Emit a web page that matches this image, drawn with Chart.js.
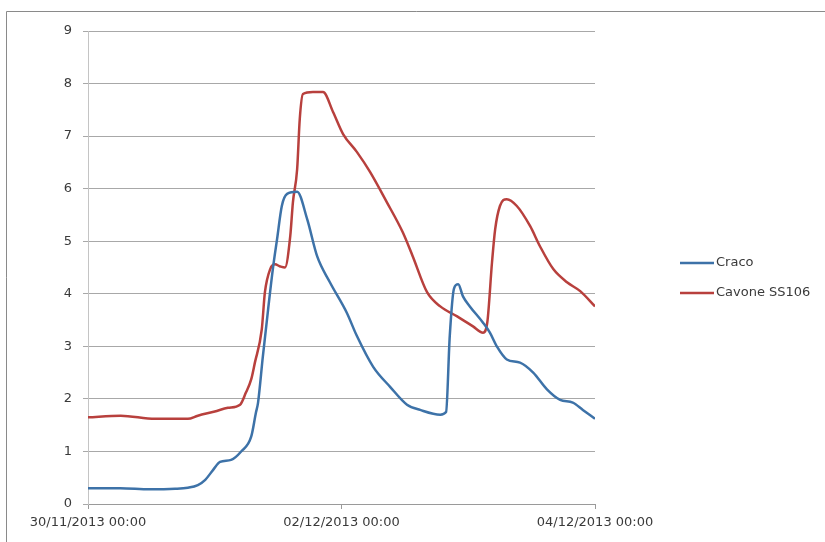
<!DOCTYPE html>
<html>
<head>
<meta charset="utf-8">
<script src="https://cdn.jsdelivr.net/npm/chart.js@4/dist/chart.umd.min.js"></script>
<style>
  html, body { margin: 0; padding: 0; background: #fff; }
  #wrap { width: 825px; height: 542px; position: relative; }
</style>
</head>
<body>
<div id="wrap"><canvas id="c" width="825" height="542"></canvas></div>
<script>
// Hours elapsed since 30/11/2013 00:00
const xTickHours = [0, 48, 96];
const xTickLabels = ['30/11/2013 00:00', '02/12/2013 00:00', '04/12/2013 00:00'];
const yTicks = [0, 1, 2, 3, 4, 5, 6, 7, 8, 9];

// Craco water level
const cracoHours = [0, 6.1, 11.7, 16.5, 18.9, 20.8, 22.2, 23.7, 25.0, 27.1, 29.0, 30.9, 31.8, 32.2, 33.1, 34.1, 35.0, 35.8, 36.7, 37.7, 39.6, 41.5, 43.4, 45.8, 49.0, 50.9, 54.0, 57.2, 60.4, 62.9, 66.7, 67.8, 68.5, 69.3, 70.1, 71.0, 72.3, 74.8, 76.1, 77.4, 79.3, 81.8, 84.3, 86.9, 89.4, 91.8, 93.7, 96];
const cracoValues = [0.30, 0.30, 0.28, 0.29, 0.31, 0.36, 0.46, 0.65, 0.80, 0.84, 1.00, 1.28, 1.74, 1.93, 2.80, 3.70, 4.47, 5.04, 5.67, 5.90, 5.94, 5.42, 4.71, 4.22, 3.64, 3.20, 2.61, 2.23, 1.89, 1.79, 1.70, 1.75, 3.20, 4.10, 4.18, 3.95, 3.76, 3.45, 3.26, 3.00, 2.75, 2.69, 2.50, 2.18, 1.98, 1.93, 1.79, 1.62];

// Cavone SS106 water level
const cavoneHours = [0, 6.2, 12.7, 18.9, 20.8, 24.0, 26.5, 28.8, 29.9, 30.9, 31.6, 32.9, 33.5, 34.5, 35.4, 36.4, 37.3, 38.3, 38.8, 39.6, 40.1, 40.7, 42.6, 44.5, 46.4, 48.3, 50.9, 53.4, 56.6, 59.6, 61.5, 64.2, 66.7, 69.9, 72.9, 74.8, 75.6, 76.5, 77.1, 78.0, 79.3, 81.2, 83.7, 85.6, 88.1, 90.7, 93.2, 96];
const cavoneValues = [1.65, 1.68, 1.62, 1.62, 1.68, 1.76, 1.83, 1.89, 2.12, 2.37, 2.69, 3.32, 4.03, 4.47, 4.56, 4.52, 4.50, 5.10, 5.74, 6.37, 7.33, 7.80, 7.84, 7.84, 7.46, 7.04, 6.70, 6.32, 5.74, 5.17, 4.71, 4.03, 3.76, 3.57, 3.38, 3.26, 3.45, 4.60, 5.23, 5.67, 5.80, 5.67, 5.29, 4.90, 4.47, 4.22, 4.05, 3.76];

const seriesNames = ['Craco', 'Cavone SS106'];
const seriesColors = ['#3d72a8', '#b8403d'];

const toPoints = (hs, vs) => hs.map((h, i) => ({ x: h, y: vs[i] }));

const FONT = 'DejaVu Sans';
const TEXT = '#3a3a3a';

// Outer frame of the chart area (top and left edges)
const framePlugin = {
  id: 'frame',
  beforeDraw(chart) {
    const ctx = chart.ctx;
    ctx.save();
    ctx.strokeStyle = '#8a8a8a';
    ctx.lineWidth = 1;
    ctx.beginPath();
    ctx.moveTo(6.5, 545);
    ctx.lineTo(6.5, 11.5);
    ctx.lineTo(830, 11.5);
    ctx.stroke();
    ctx.restore();
  }
};

// Legend at the right of the plot
const sideLegend = {
  id: 'sideLegend',
  afterDraw(chart) {
    const ctx = chart.ctx;
    const x0 = 680, x1 = 714;
    const rows = [263, 293];
    ctx.save();
    ctx.font = '13px "' + FONT + '"';
    ctx.textBaseline = 'middle';
    ctx.textAlign = 'left';
    chart.data.datasets.forEach((ds, i) => {
      const y = rows[i];
      ctx.strokeStyle = ds.borderColor;
      ctx.lineWidth = 2.5;
      ctx.beginPath();
      ctx.moveTo(x0, y);
      ctx.lineTo(x1, y);
      ctx.stroke();
      ctx.fillStyle = TEXT;
      ctx.fillText(ds.label, x1 + 2, y);
    });
    ctx.restore();
  }
};

new Chart(document.getElementById('c'), {
  type: 'line',
  data: {
    datasets: [
      {
        label: seriesNames[0],
        data: toPoints(cracoHours, cracoValues),
        borderColor: seriesColors[0],
        borderWidth: 2.5,
        pointRadius: 0,
        cubicInterpolationMode: 'monotone',
        fill: false
      },
      {
        label: seriesNames[1],
        data: toPoints(cavoneHours, cavoneValues),
        borderColor: seriesColors[1],
        borderWidth: 2.5,
        pointRadius: 0,
        cubicInterpolationMode: 'monotone',
        fill: false
      }
    ]
  },
  options: {
    responsive: false,
    animation: false,
    devicePixelRatio: 1,
    layout: { padding: { left: 10, right: 230, top: 31, bottom: 0 } },
    plugins: {
      legend: { display: false },
      tooltip: { enabled: false }
    },
    scales: {
      x: {
        type: 'linear',
        min: 0,
        max: 96,
        afterBuildTicks(scale) { scale.ticks = xTickHours.map(v => ({ value: v })); },
        afterFit(scale) { scale.height = 38; },
        ticks: {
          callback: (v) => xTickLabels[xTickHours.indexOf(v)] ?? '',
          font: { family: FONT, size: 13 },
          color: TEXT,
          padding: 6,
          maxRotation: 0,
          autoSkip: false
        },
        grid: { drawOnChartArea: false, drawTicks: true, tickLength: 5, color: '#9a9a9a' },
        border: { display: true, color: '#9a9a9a', width: 1 }
      },
      y: {
        min: 0,
        max: 9,
        afterBuildTicks(scale) { scale.ticks = yTicks.map(v => ({ value: v })); },
        afterFit(scale) { scale.width = 78; },
        ticks: {
          font: { family: FONT, size: 13 },
          color: TEXT,
          padding: 11
        },
        grid: { color: '#a8a8a8', lineWidth: 1, tickLength: 5, drawTicks: true },
        border: { display: true, color: '#c4c4c4', width: 1 }
      }
    }
  },
  plugins: [framePlugin, sideLegend]
});
</script>
</body>
</html>
